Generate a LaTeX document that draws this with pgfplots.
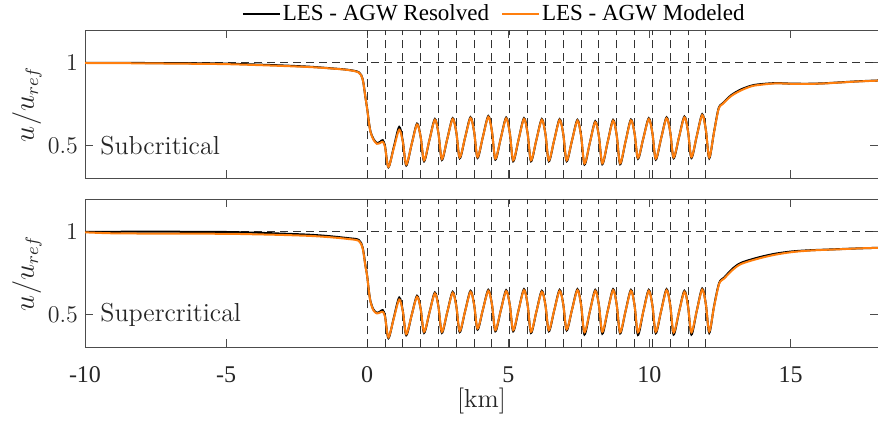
\documentclass[border=0pt]{standalone}
\usepackage{pgfplots}
\pgfplotsset{compat=1.18}
\usepackage{fontspec}
\newfontfamily\tnr{Liberation Serif}
\definecolor{agworange}{RGB}{255,127,14}
\definecolor{axgray}{gray}{0.15}

\pgfplotsset{
  panel/.style={
    scale only axis, width=396.5pt, height=74.2pt,
    xmin=-10, xmax=18.1, ymin=0.3, ymax=1.2,
    xtick={-10,-5,0,5,10,15},
    ytick={0.5,1},
    tick align=inside, major tick length=4pt,
    axis line style={black!70, line width=0.5pt},
    every tick/.style={black!70, line width=0.5pt},
    tick label style={text=axgray},
    yticklabel style={font=\fontsize{12.5}{14}\selectfont},
    ylabel={$u/u_{ref}$},
    ylabel style={font=\fontsize{13.5}{16}\selectfont, text=axgray,
      at={(axis description cs:-0.0731,0.5)}, anchor=center},
  },
  turb/.style={black!80, line width=0.5pt, dash pattern=on 4pt off 2.5pt, forget plot},
  res/.style={black, line width=1pt, smooth},
  mod/.style={agworange, line width=1pt, smooth},
}

\newcommand{\turbines}{%
  \pgfplotsinvokeforeach{0,0.632,1.263,1.895,2.526,3.158,3.789,4.421,5.053,5.684,
    6.316,6.947,7.579,8.211,8.842,9.474,10.105,10.737,11.368,12.0}{%
    \addplot[turb] coordinates {(##1,0.3) (##1,1.2)};}
  \addplot[turb] coordinates {(-10,1) (18.1,1)};
}

\begin{document}
\begin{tikzpicture}
\useasboundingbox (0,0) rectangle (439pt,-210pt);

% subcritical
\begin{axis}[panel, at={(42.5pt,-15pt)}, anchor=north west,
  xticklabels={},
  legend style={draw=none, fill=none, at={(0.516,1.108)}, anchor=center,
    legend columns=2, font=\tnr\fontsize{11.5}{13}\selectfont,
    /tikz/every even column/.append style={column sep=5pt},
    inner sep=0pt, nodes={inner sep=1pt}},
  legend image code/.code={\draw[#1] (0pt,0pt) -- (18.5pt,0pt);},
]
\turbines
\addplot[res] coordinates {
(-10,1.0) (-8,1.0) (-6,0.998) (-5,0.996) (-4,0.991) (-3,0.985) (-2,0.977)
(-1.3,0.968) (-0.7,0.959) (-0.3,0.944) (-0.16,0.902) (-0.07,0.8) (0,0.722)
(0.06,0.642) (0.12,0.582) (0.22,0.54) (0.34,0.515) (0.46,0.522) (0.55,0.532)
(0.632,0.495) (0.752,0.368) (0.942,0.49) (1.134,0.612) (1.263,0.525)
(1.383,0.379) (1.573,0.506) (1.765,0.632) (1.895,0.551) (2.015,0.404)
(2.205,0.533) (2.397,0.66) (2.526,0.572) (2.646,0.412) (2.836,0.539)
(3.028,0.665) (3.158,0.579) (3.278,0.422) (3.468,0.547) (3.660,0.671)
(3.789,0.583) (3.909,0.424) (4.099,0.552) (4.291,0.678) (4.421,0.584)
(4.541,0.414) (4.731,0.542) (4.923,0.669) (5.053,0.575) (5.173,0.404)
(5.363,0.535) (5.555,0.665) (5.684,0.573) (5.804,0.404) (5.994,0.533)
(6.186,0.66) (6.316,0.569) (6.436,0.404) (6.626,0.532) (6.818,0.659)
(6.947,0.569) (7.067,0.404) (7.257,0.53) (7.449,0.655) (7.579,0.559)
(7.699,0.384) (7.889,0.516) (8.081,0.647) (8.211,0.555) (8.331,0.386)
(8.521,0.521) (8.713,0.655) (8.842,0.56) (8.962,0.386) (9.152,0.522)
(9.344,0.657) (9.474,0.573) (9.594,0.419) (9.784,0.543) (9.976,0.665)
(10.105,0.576) (10.225,0.414) (10.415,0.543) (10.607,0.67) (10.737,0.582)
(10.857,0.422) (11.047,0.549) (11.239,0.675) (11.368,0.586) (11.488,0.424)
(11.678,0.557) (11.870,0.689) (12.0,0.594) (12.12,0.422) (12.29,0.582)
(12.45,0.724) (12.6,0.756) (12.9,0.805) (13.25,0.84) (13.6,0.862)
(13.85,0.87) (14.45,0.878) (15.0,0.875) (15.6,0.874) (16.2,0.877)
(16.8,0.883) (17.4,0.889) (18.1,0.894)};
\addlegendentry{LES - AGW Resolved}
\addplot[mod] coordinates {
(-10,1.0) (-8,0.998) (-6,0.995) (-5,0.993) (-4,0.988) (-3,0.982) (-2,0.975)
(-1.3,0.967) (-0.7,0.958) (-0.3,0.942) (-0.16,0.9) (-0.07,0.8) (0,0.72)
(0.06,0.64) (0.12,0.58) (0.22,0.535) (0.34,0.51) (0.46,0.515) (0.55,0.522)
(0.632,0.49) (0.752,0.37) (0.942,0.483) (1.134,0.595) (1.263,0.52)
(1.383,0.385) (1.573,0.506) (1.765,0.627) (1.895,0.551) (2.015,0.41)
(2.205,0.533) (2.397,0.655) (2.526,0.572) (2.646,0.418) (2.836,0.539)
(3.028,0.66) (3.158,0.579) (3.278,0.428) (3.468,0.547) (3.660,0.666)
(3.789,0.583) (3.909,0.43) (4.099,0.552) (4.291,0.673) (4.421,0.584)
(4.541,0.42) (4.731,0.542) (4.923,0.664) (5.053,0.575) (5.173,0.41)
(5.363,0.535) (5.555,0.66) (5.684,0.573) (5.804,0.41) (5.994,0.533)
(6.186,0.655) (6.316,0.569) (6.436,0.41) (6.626,0.532) (6.818,0.654)
(6.947,0.569) (7.067,0.41) (7.257,0.53) (7.449,0.65) (7.579,0.559)
(7.699,0.39) (7.889,0.516) (8.081,0.642) (8.211,0.555) (8.331,0.392)
(8.521,0.521) (8.713,0.65) (8.842,0.56) (8.962,0.392) (9.152,0.522)
(9.344,0.652) (9.474,0.573) (9.594,0.425) (9.784,0.543) (9.976,0.66)
(10.105,0.576) (10.225,0.42) (10.415,0.543) (10.607,0.665) (10.737,0.582)
(10.857,0.428) (11.047,0.549) (11.239,0.67) (11.368,0.586) (11.488,0.43)
(11.678,0.557) (11.870,0.684) (12.0,0.594) (12.12,0.428) (12.29,0.58)
(12.45,0.72) (12.6,0.752) (12.9,0.8) (13.25,0.834) (13.6,0.858)
(13.85,0.866) (14.45,0.876) (15.0,0.874) (15.6,0.873) (16.2,0.876)
(16.8,0.882) (17.4,0.888) (18.1,0.893)};
\addlegendentry{LES - AGW Modeled}
\node[anchor=west, inner sep=0pt, font=\fontsize{13}{15}\selectfont, text=axgray]
  at (axis cs:-9.47,0.5) {Subcritical};
\end{axis}

% supercritical
\begin{axis}[panel, at={(42.5pt,-99.5pt)}, anchor=north west,
  xticklabels={-10,-5,0,5,10,15},
  xticklabel style={font=\tnr\fontsize{12}{14}\selectfont, yshift=-6pt},
  xlabel={[km]},
  xlabel style={font=\fontsize{13}{15}\selectfont, text=axgray,
    at={(axis description cs:0.5,-0.364)}, anchor=center},
]
\turbines
\addplot[res] coordinates {
(-10,1.0) (-8,1.002) (-6,1.001) (-5,1.0) (-4,0.996) (-3,0.99) (-2,0.983)
(-1.3,0.974) (-0.7,0.963) (-0.3,0.952) (-0.16,0.905) (-0.07,0.805) (0,0.732)
(0.06,0.642) (0.12,0.577) (0.22,0.53) (0.34,0.51) (0.46,0.518) (0.55,0.526)
(0.632,0.49) (0.752,0.356) (0.942,0.48) (1.134,0.602) (1.263,0.52)
(1.383,0.374) (1.573,0.494) (1.765,0.613) (1.895,0.533) (2.015,0.388)
(2.205,0.511) (2.397,0.633) (2.526,0.546) (2.646,0.388) (2.836,0.513)
(3.028,0.637) (3.158,0.55) (3.278,0.393) (3.468,0.519) (3.660,0.643)
(3.789,0.559) (3.909,0.408) (4.099,0.529) (4.291,0.649) (4.421,0.56)
(4.541,0.398) (4.731,0.523) (4.923,0.647) (5.053,0.558) (5.173,0.398)
(5.363,0.526) (5.555,0.653) (5.684,0.559) (5.804,0.388) (5.994,0.516)
(6.186,0.643) (6.316,0.556) (6.436,0.398) (6.626,0.524) (6.818,0.649)
(6.947,0.561) (7.067,0.403) (7.257,0.529) (7.449,0.653) (7.579,0.558)
(7.699,0.378) (7.889,0.518) (8.081,0.649) (8.211,0.556) (8.331,0.383)
(8.521,0.521) (8.713,0.653) (8.842,0.558) (8.962,0.385) (9.152,0.518)
(9.344,0.649) (9.474,0.555) (9.594,0.376) (9.784,0.518) (9.976,0.649)
(10.105,0.556) (10.225,0.386) (10.415,0.521) (10.607,0.653) (10.737,0.557)
(10.857,0.378) (11.047,0.514) (11.239,0.643) (11.368,0.551) (11.488,0.378)
(11.678,0.522) (11.870,0.657) (12.0,0.562) (12.12,0.388) (12.29,0.55)
(12.47,0.69) (12.65,0.724) (12.95,0.778) (13.25,0.813) (13.85,0.845)
(14.45,0.868) (15.05,0.882) (15.65,0.889) (16.25,0.893) (16.85,0.897)
(17.5,0.901) (18.1,0.904)};
\addplot[mod] coordinates {
(-10,0.998) (-9,0.992) (-7,0.99) (-5,0.989) (-4,0.986) (-3,0.982) (-2,0.976)
(-1.3,0.968) (-0.7,0.958) (-0.3,0.946) (-0.16,0.9) (-0.07,0.8) (0,0.73)
(0.06,0.64) (0.12,0.575) (0.22,0.525) (0.34,0.506) (0.46,0.512) (0.55,0.516)
(0.632,0.485) (0.752,0.362) (0.942,0.476) (1.134,0.59) (1.263,0.517)
(1.383,0.381) (1.573,0.494) (1.765,0.607) (1.895,0.533) (2.015,0.395)
(2.205,0.511) (2.397,0.627) (2.526,0.546) (2.646,0.395) (2.836,0.513)
(3.028,0.631) (3.158,0.55) (3.278,0.4) (3.468,0.519) (3.660,0.637)
(3.789,0.559) (3.909,0.415) (4.099,0.529) (4.291,0.643) (4.421,0.56)
(4.541,0.405) (4.731,0.523) (4.923,0.641) (5.053,0.558) (5.173,0.405)
(5.363,0.526) (5.555,0.647) (5.684,0.559) (5.804,0.395) (5.994,0.516)
(6.186,0.637) (6.316,0.556) (6.436,0.405) (6.626,0.524) (6.818,0.643)
(6.947,0.561) (7.067,0.41) (7.257,0.529) (7.449,0.647) (7.579,0.558)
(7.699,0.392) (7.889,0.518) (8.081,0.643) (8.211,0.556) (8.331,0.395)
(8.521,0.521) (8.713,0.647) (8.842,0.558) (8.962,0.392) (9.152,0.518)
(9.344,0.643) (9.474,0.555) (9.594,0.392) (9.784,0.518) (9.976,0.643)
(10.105,0.556) (10.225,0.395) (10.415,0.521) (10.607,0.647) (10.737,0.557)
(10.857,0.39) (11.047,0.514) (11.239,0.637) (11.368,0.551) (11.488,0.392)
(11.678,0.522) (11.870,0.651) (12.0,0.562) (12.12,0.397) (12.29,0.546)
(12.47,0.685) (12.65,0.718) (12.95,0.77) (13.25,0.806) (13.85,0.838)
(14.45,0.862) (15.05,0.878) (15.65,0.887) (16.25,0.892) (16.85,0.896)
(17.5,0.901) (18.1,0.904)};
\node[anchor=west, inner sep=0pt, font=\fontsize{13}{15}\selectfont, text=axgray]
  at (axis cs:-9.47,0.5) {Supercritical};
\end{axis}
\end{tikzpicture}
\end{document}
